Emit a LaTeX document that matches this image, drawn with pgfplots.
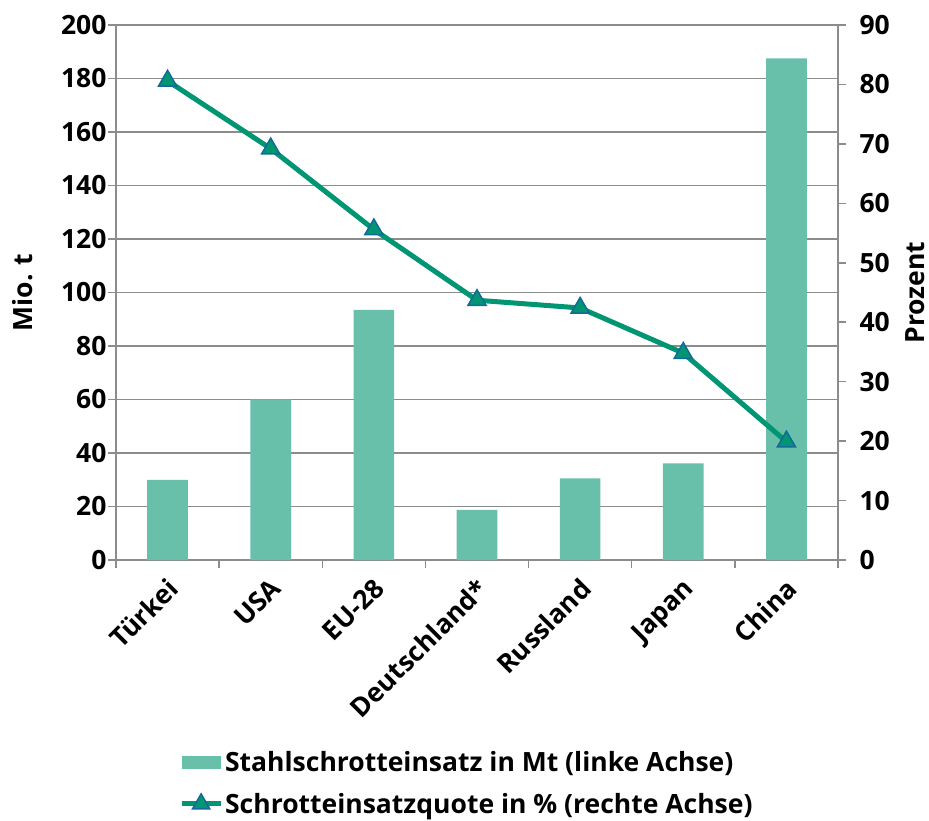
\documentclass[border=0pt]{standalone}
\usepackage{fontspec}
\setmainfont{Open Sans}
\usepackage{pgfplots}
\pgfplotsset{compat=1.18}
\definecolor{barc}{RGB}{104,191,170}
\definecolor{linec}{RGB}{0,150,115}
\definecolor{markc}{RGB}{20,105,150}
\definecolor{gridc}{RGB}{140,140,140}
\newcommand\lf{\fontsize{26.5}{31}\selectfont\bfseries}
\begin{document}
\begin{tikzpicture}
\path (-116pt,-261pt) rectangle (813pt,560pt);
\begin{axis}[
  scale only axis, width=722pt, height=535pt,
  xmin=-0.5, xmax=6.5, ymin=0, ymax=200,
  ytick={0,20,...,200},
  xtick={0,...,6},
  xticklabels={Türkei,USA,EU-28,Deutschland*,Russland,Japan,China},
  minor xtick={-0.5,0.5,...,6.5},
  axis x line*=bottom, axis y line*=left,
  tick align=outside,
  major tick length=8pt, minor tick length=8pt,
  x tick style={draw=none},
  minor x tick style={draw=gridc, line width=1.5pt},
  y tick style={gridc, line width=1.5pt},
  ymajorgrids, grid style={gridc, line width=1.5pt},
  axis line style={gridc, line width=1.5pt},
  /pgf/number format/assume math mode=true,
  ticklabel style={font=\lf},
  yticklabel style={xshift=2pt},
  xticklabel style={rotate=45, anchor=north east, inner sep=1pt, yshift=-4pt, xshift=-6pt},
  ylabel={Mio. t}, ylabel style={font=\lf, at={(axis description cs:-0.13,0.5)}, anchor=center},
  legend style={at={(axis description cs:0.083,-0.35)}, anchor=north west, draw=none, font=\lf,
    cells={anchor=west}, row sep=16pt, nodes={inner xsep=2pt}},
  clip=false,
]
\addplot[ybar, bar width=40.7pt, fill=barc, draw=none,
  legend image code/.code={\fill[barc] (0pt,-6.5pt) rectangle (39pt,6.5pt);}]
  coordinates {(0,30) (1,60) (2,93.5) (3,18.7) (4,30.5) (5,36.1) (6,187.5)};
\addlegendentry{Stahlschrotteinsatz in Mt (linke Achse)}
\addlegendimage{legend image code/.code={
  \draw[linec, line width=5pt] (0pt,0pt) -- (39pt,0pt);
  \draw[fill=linec, draw=markc, line width=1.5pt] plot[mark=triangle*, mark size=10pt, mark options={fill=linec, draw=markc}] coordinates {(19.5pt,0pt)};}}
\addlegendentry{Schrotteinsatzquote in \% (rechte Achse)}
\end{axis}
\begin{axis}[
  scale only axis, width=722pt, height=535pt,
  xmin=-0.5, xmax=6.5, ymin=0, ymax=90,
  ytick={0,10,...,90},
  axis x line=none, axis y line*=right,
  tick align=outside, major tick length=8pt,
  y tick style={gridc, line width=1.5pt},
  axis line style={gridc, line width=1.5pt},
  /pgf/number format/assume math mode=true,
  ticklabel style={font=\lf},
  yticklabel style={xshift=10pt},
  ylabel={Prozent}, ylabel style={font=\lf, at={(axis description cs:1.1066,0.5)}, anchor=center, rotate=0},
  clip=false,
]
\addplot[linec, line width=5pt, mark=triangle*, mark size=10.5pt,
  mark options={fill=linec, draw=markc, line width=1.5pt}]
  coordinates {(0,80.6) (1,69.2) (2,55.6) (3,43.7) (4,42.4) (5,34.8) (6,19.9)};
\end{axis}
\end{tikzpicture}
\end{document}
